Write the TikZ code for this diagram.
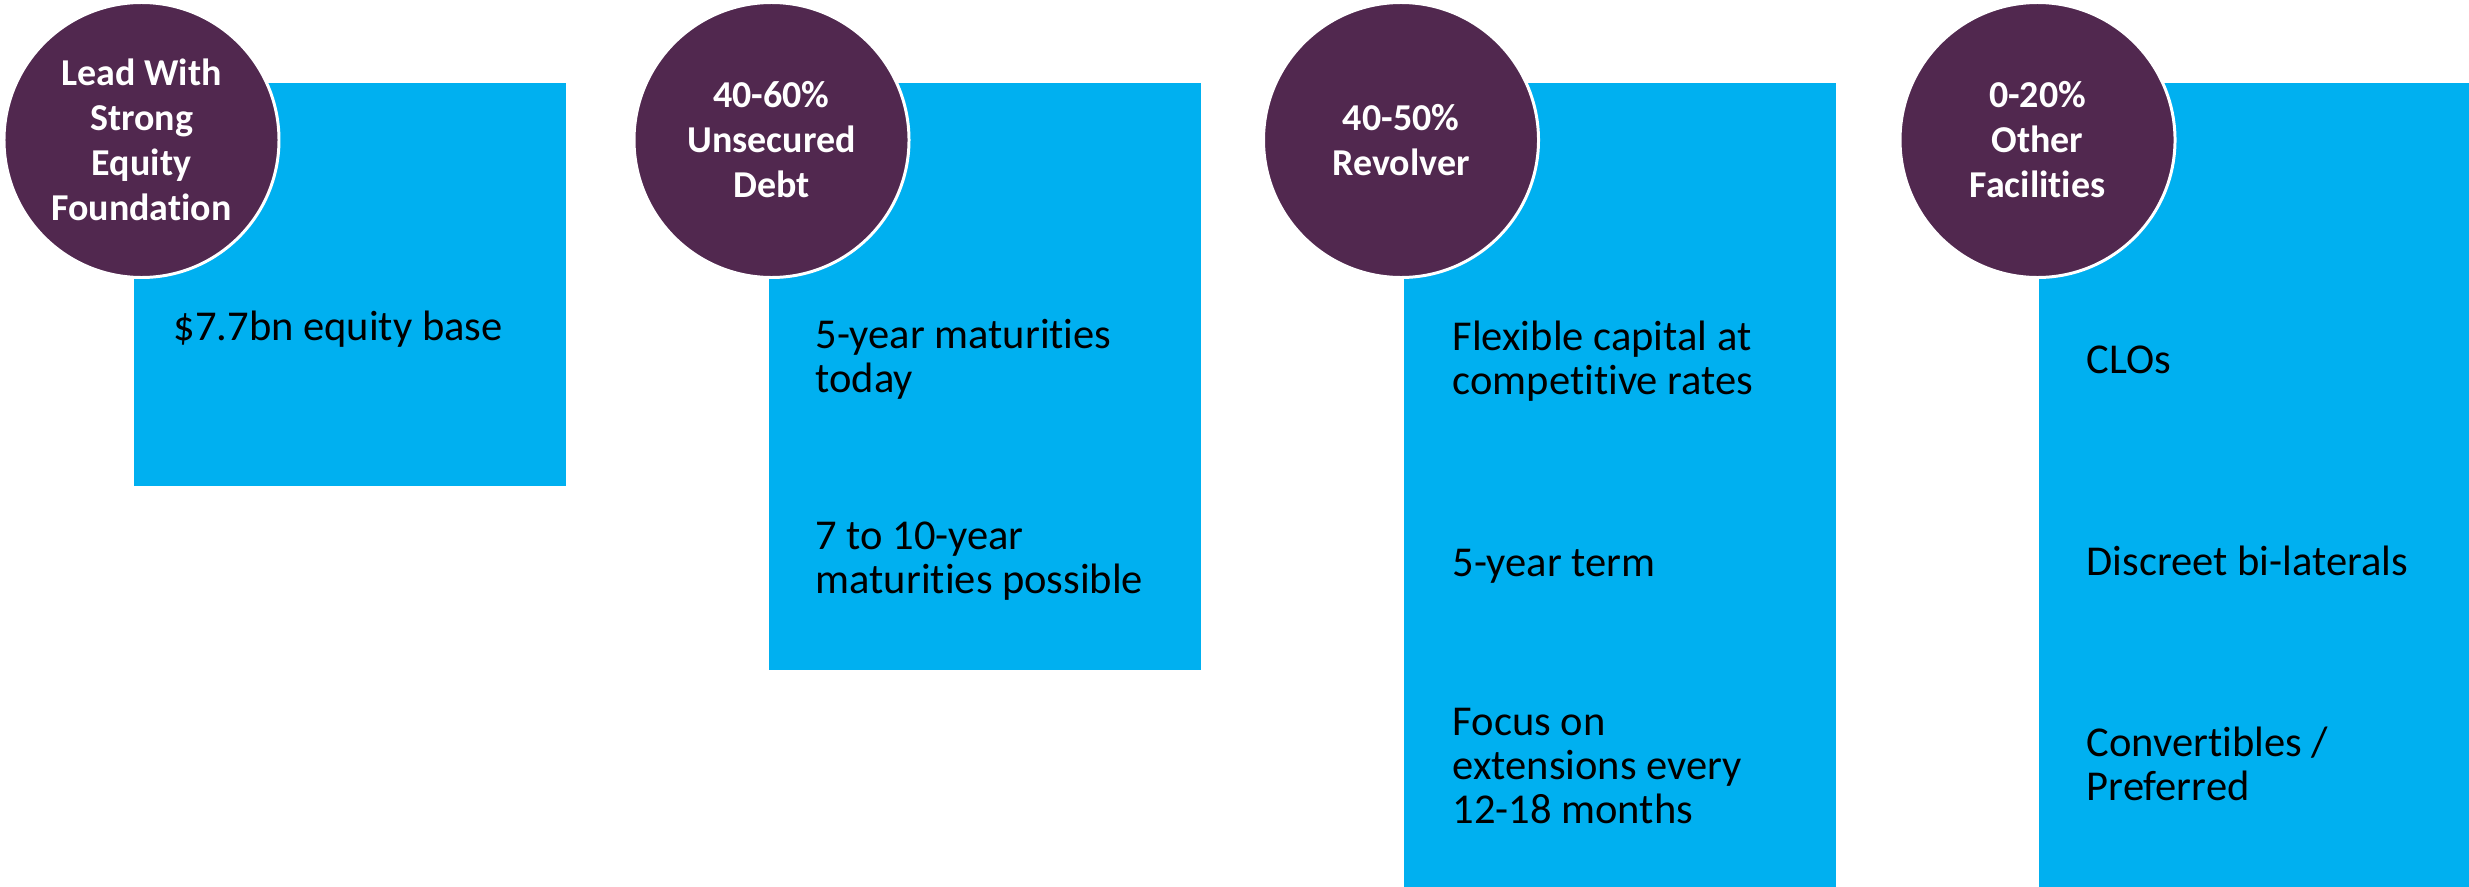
\documentclass[tikz,border=0pt]{standalone}
\usepackage{fontspec}
\setmainfont{Carlito}[Ligatures=NoCommon]
\usepackage{tikz}
\usetikzlibrary{positioning}

\definecolor{capblue}{HTML}{00B0F0}
\definecolor{cappurple}{HTML}{51284F}

\begin{document}
\begin{tikzpicture}[
    card/.style={rectangle, fill=capblue, anchor=north west, minimum width=4.32cm, inner sep=0pt},
    badge/.style={circle, fill=cappurple, draw=white, line width=0.85pt, minimum size=2.75cm, inner sep=0pt, align=center, text=white, font=\fontsize{10.8}{12.8}\selectfont\bfseries},
    point/.style={anchor=base west, align=left, inner sep=0pt, font=\fontsize{12.1}{12.5}\selectfont},
]
    \useasboundingbox (0,0) rectangle (24.69,-8.86);

    % Blue cards, all hanging from the same top line
    \node[card, minimum height=4.03cm] (eqbox)   at (1.33, -0.82) {};
    \node[card, minimum height=5.87cm] (debtbox) at (7.68, -0.82) {};
    \node[card, minimum height=8.04cm] (revbox)  at (14.03, -0.82) {};
    \node[card, minimum height=8.04cm, minimum width=4.31cm] (othbox) at (20.38, -0.82) {};

    % Purple badges on the top left corner of each card
    \node[badge] (eqbadge)   at (1.415, -1.40) {Lead With\\Strong\\Equity\\Foundation};
    \node[badge] (debtbadge) at (7.715, -1.40) {40-60\%\\Unsecured\\Debt};
    \node[badge] (revbadge)  at (14.01, -1.40) {40-50\%\\Revolver};
    \node[badge] (othbadge)  at (20.375, -1.40) {0-20\%\\Other\\Facilities};

    % Column 1: equity (y = baseline of the last line)
    \node[point] (eqbase) at (1.73, -3.40) {\$7.7bn equity base};

    % Column 2: unsecured debt
    \node[point] (debtnow)  at (8.15, -3.92) {5-year maturities\\today};
    \node[point] (debtlong) at (8.15, -5.93) {7 to 10-year\\maturities possible};

    % Column 3: revolver
    \node[point] (revrate) at (14.52, -3.94) {Flexible capital at\\competitive rates};
    \node[point] (revterm) at (14.52, -5.76) {5-year term};
    \node[point] (revext)  at (14.52, -8.23) {Focus on\\extensions every\\12-18 months};

    % Column 4: other facilities
    \node[point] (othclo)  at (20.86, -3.73) {CLOs};
    \node[point] (othbil)  at (20.86, -5.75) {Discreet bi-laterals};
    \node[point] (othconv) at (20.86, -8.00) {Convertibles /\\Preferred};
\end{tikzpicture}
\end{document}
